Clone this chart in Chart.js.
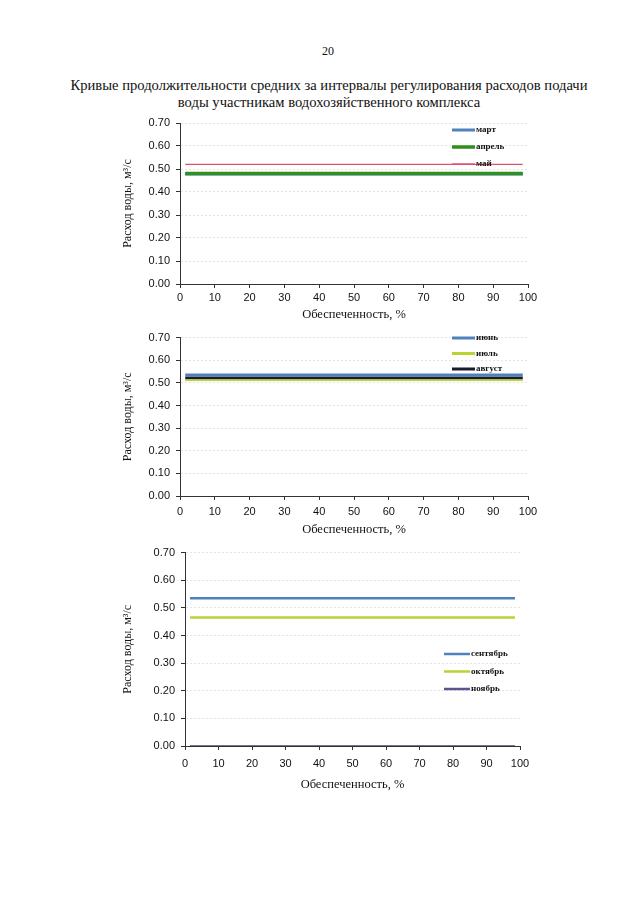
<!DOCTYPE html>
<html>
<head>
<meta charset="utf-8">
<script src="https://cdn.jsdelivr.net/npm/chart.js@4.4.1/dist/chart.umd.min.js"></script>
<style>
  body { margin: 0; background: #fff; width: 640px; height: 903px; position: relative; overflow: hidden; }
  .txt { position: absolute; left: 0; width: 640px; text-align: center; font-family: "Liberation Serif", serif; color: #111; }
  canvas { position: absolute; left: 0; }
</style>
</head>
<body>
<div class="txt" style="top:44px;font-size:12px;left:8px">20</div>
<div class="txt" style="top:77px;left:9px;font-size:14.6px;line-height:17px">Кривые продолжительности средних за интервалы регулирования расходов подачи<br>воды участникам водохозяйственного комплекса</div>
<div style="position:absolute;left:0;top:110px;width:640px;height:215px"><canvas id="c1"></canvas></div>
<div style="position:absolute;left:0;top:325px;width:640px;height:215px"><canvas id="c2"></canvas></div>
<div style="position:absolute;left:0;top:540px;width:640px;height:255px"><canvas id="c3"></canvas></div>
<script>
// обеспеченность, %
const probability = [1.5, 10, 20, 30, 40, 50, 60, 70, 80, 90, 98.5];

// расходы, м3/с
const mart     = [0.478, 0.478, 0.478, 0.478, 0.478, 0.478, 0.478, 0.478, 0.478, 0.478, 0.478];
const aprel    = [0.48, 0.48, 0.48, 0.48, 0.48, 0.48, 0.48, 0.48, 0.48, 0.48, 0.48];
const mai      = [0.52, 0.52, 0.52, 0.52, 0.52, 0.52, 0.52, 0.52, 0.52, 0.52, 0.52];
const iyun     = [0.535, 0.535, 0.535, 0.535, 0.535, 0.535, 0.535, 0.535, 0.535, 0.535, 0.535];
const iyul     = [0.512, 0.512, 0.512, 0.512, 0.512, 0.512, 0.512, 0.512, 0.512, 0.512, 0.512];
const avgust   = [0.522, 0.522, 0.522, 0.522, 0.522, 0.522, 0.522, 0.522, 0.522, 0.522, 0.522];
const sentyabr = [0.535, 0.535, 0.535, 0.535, 0.535, 0.535, 0.535, 0.535, 0.535, 0.535, 0.535];
const oktyabr  = [0.465, 0.465, 0.465, 0.465, 0.465, 0.465, 0.465, 0.465, 0.465, 0.465, 0.465];
const noyabr   = [0, 0, 0, 0, 0, 0, 0, 0, 0, 0, 0];

const xTicks = [0, 10, 20, 30, 40, 50, 60, 70, 80, 90, 100];
const yTicks = [0, 0.1, 0.2, 0.3, 0.4, 0.5, 0.6, 0.7];

const pts = (ys) => probability.map((x, i) => ({ x: x, y: ys[i] }));

// legend drawn as a column at a fixed place
const sideLegend = {
    id: 'sideLegend',
    afterDraw(chart, args, opts) {
        const ctx = chart.ctx;
        ctx.save();
        chart.data.datasets.forEach((ds, i) => {
            const y = opts.y + i * opts.dy;
            ctx.strokeStyle = ds.legendColor || ds.borderColor;
            ctx.lineWidth = ds.legendWidth || ds.borderWidth;
            ctx.beginPath();
            ctx.moveTo(opts.x, y);
            ctx.lineTo(opts.x + opts.len, y);
            ctx.stroke();
            ctx.fillStyle = '#111';
            ctx.font = 'bold 9px "Liberation Serif"';
            ctx.textBaseline = 'middle';
            ctx.fillText(ds.label, opts.x + opts.len + 1, y);
        });
        ctx.restore();
    }
};

function makeChart(id, datasets, box, legend) {
    return new Chart(document.getElementById(id), {
        type: 'line',
        data: { datasets: datasets },
        plugins: [sideLegend],
        options: {
            responsive: true,
            maintainAspectRatio: false,
            animation: false,
            layout: { padding: { left: box.left, top: box.top, right: box.right, bottom: 0 } },
            elements: { point: { radius: 0 }, line: { tension: 0 } },
            plugins: {
                legend: { display: false },
                tooltip: { enabled: false },
                sideLegend: legend
            },
            scales: {
                x: {
                    type: 'linear',
                    min: 0, max: 100,
                    afterBuildTicks: (s) => { s.ticks = xTicks.map(v => ({ value: v })); },
                    afterFit: (s) => { s.height = box.xh; },
                    ticks: { color: '#111', padding: box.xpad, font: { family: 'Liberation Sans', size: 11 }, maxRotation: 0 },
                    grid: { display: true, drawOnChartArea: false, tickLength: 4, tickColor: '#333' },
                    border: { color: '#333', width: 1 },
                    title: { display: true, text: 'Обеспеченность, %', color: '#111', padding: { top: 0, bottom: 3 },
                             font: { family: 'Liberation Serif', size: 12.5 } }
                },
                y: {
                    min: 0, max: 0.7,
                    afterBuildTicks: (s) => { s.ticks = yTicks.map(v => ({ value: v })); },
                    afterFit: (s) => { s.width = box.yw; },
                    ticks: { color: '#111', padding: 6, font: { family: 'Liberation Sans', size: 11 },
                             callback: (v) => Number(v).toFixed(2) },
                    grid: { color: '#e4e4e4', tickLength: 4, tickColor: '#333' },
                    border: { color: '#333', width: 1, dash: [2, 2] },
                    title: { display: true, text: 'Расход воды, м³/с', color: '#111', padding: { top: 4, bottom: 0 },
                             font: { family: 'Liberation Serif', size: 12 } }
                }
            }
        }
    });
}

makeChart('c1', [
    { label: 'март', data: pts(mart), borderColor: '#4f81bd', borderWidth: 3, order: 2 },
    { label: 'апрель', data: pts(aprel), borderColor: '#2f8f1f', borderWidth: 3.5, order: 1 },
    { label: 'май', data: pts(mai), borderColor: '#e0506b', borderWidth: 1.3, order: 0 }
], { left: 117, top: 13, right: 112, yw: 63, xh: 41, xpad: 3 }, { x: 452, y: 20, dy: 17, len: 23 });

makeChart('c2', [
    { label: 'июнь', data: pts(iyun), borderColor: '#4f81bd', borderWidth: 3 },
    { label: 'июль', data: pts(iyul), borderColor: '#b8d334', borderWidth: 1.8, legendWidth: 3 },
    { label: 'август', data: pts(avgust), borderColor: '#1c1a2e', borderWidth: 3 }
], { left: 117, top: 10, right: 112, yw: 63, xh: 44, xpad: 5 }, { x: 452, y: 13, dy: 15.5, len: 23 });

makeChart('c3', [
    { label: 'сентябрь', data: pts(sentyabr), borderColor: '#4f81bd', borderWidth: 2.5 },
    { label: 'октябрь', data: pts(oktyabr), borderColor: '#b8d334', borderWidth: 2.5 },
    { label: 'ноябрь', data: pts(noyabr), borderColor: '#77748a', legendColor: '#5e5290', borderWidth: 2, legendWidth: 2.5 }
], { left: 117, top: 11, right: 120, yw: 68, xh: 49, xpad: 7 }, { x: 444, y: 114, dy: 17.5, len: 26 });
</script>
</body>
</html>
